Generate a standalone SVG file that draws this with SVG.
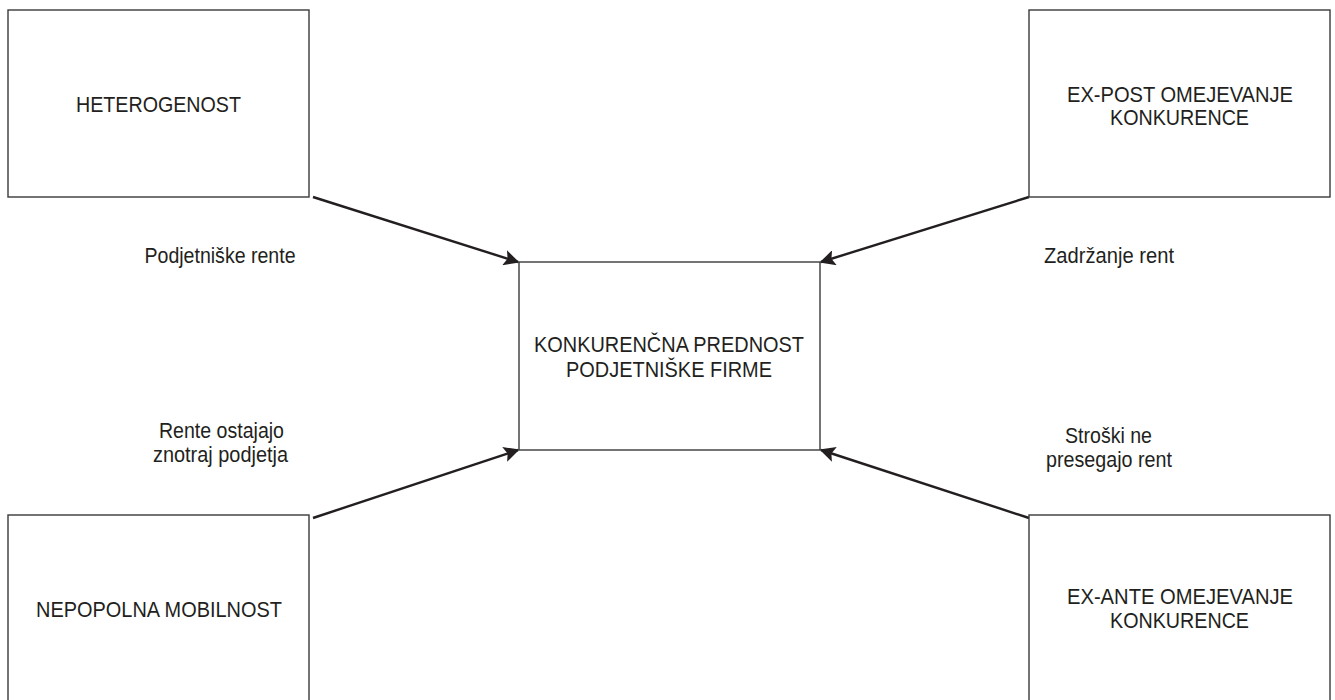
<svg xmlns="http://www.w3.org/2000/svg" width="1335" height="700" viewBox="0 0 1335 700">
<style>
.box{fill:#fff;stroke:#3a3a3a;stroke-width:1.4}
.t{font-family:"Liberation Sans",Arial,sans-serif;font-size:22px;fill:#231f20;text-anchor:middle}
.conn{stroke:#231f20;stroke-width:2.4;fill:none;marker-end:url(#ah)}
</style>
<defs>
<marker id="ah" viewBox="0 0 10 10" refX="9" refY="5" markerWidth="9" markerHeight="6.5" orient="auto" markerUnits="strokeWidth">
<path d="M0,0 L10,5 L0,10 L2,5 Z" fill="#231f20"/>
</marker>
</defs>
<rect width="1335" height="700" fill="#fff"/>
<g id="connectors">
<line class="conn" x1="313" y1="197" x2="518" y2="262"/>
<line class="conn" x1="1029" y1="197" x2="821" y2="262"/>
<line class="conn" x1="313" y1="518" x2="518" y2="450"/>
<line class="conn" x1="1029" y1="518" x2="821" y2="450"/>
</g>
<g id="node-heterogenost">
<rect class="box" x="8" y="10" width="301" height="187"/>
<text class="t" x="158.5" y="112" textLength="165" lengthAdjust="spacingAndGlyphs">HETEROGENOST</text>
</g>
<g id="node-expost">
<rect class="box" x="1029" y="10" width="301" height="187"/>
<text class="t" x="1180" y="102" textLength="226" lengthAdjust="spacingAndGlyphs">EX-POST OMEJEVANJE</text>
<text class="t" x="1179.5" y="125" textLength="139" lengthAdjust="spacingAndGlyphs">KONKURENCE</text>
</g>
<g id="node-center">
<rect class="box" x="519" y="262" width="301" height="188"/>
<text class="t" x="669" y="352" textLength="270" lengthAdjust="spacingAndGlyphs">KONKURENČNA PREDNOST</text>
<text class="t" x="669" y="377" textLength="206" lengthAdjust="spacingAndGlyphs">PODJETNIŠKE FIRME</text>
</g>
<g id="node-nepopolna">
<rect class="box" x="8" y="515" width="301" height="190"/>
<text class="t" x="159" y="617" textLength="246" lengthAdjust="spacingAndGlyphs">NEPOPOLNA MOBILNOST</text>
</g>
<g id="node-exante">
<rect class="box" x="1029" y="515" width="301" height="190"/>
<text class="t" x="1180" y="604" textLength="226" lengthAdjust="spacingAndGlyphs">EX-ANTE OMEJEVANJE</text>
<text class="t" x="1179.5" y="628" textLength="139" lengthAdjust="spacingAndGlyphs">KONKURENCE</text>
</g>
<g id="labels">
<text class="t" x="220" y="263" textLength="151" lengthAdjust="spacingAndGlyphs">Podjetniške rente</text>
<text class="t" x="1109" y="263" textLength="130" lengthAdjust="spacingAndGlyphs">Zadržanje rent</text>
<text class="t" x="221.5" y="438" textLength="125" lengthAdjust="spacingAndGlyphs">Rente ostajajo</text>
<text class="t" x="220.5" y="462" textLength="135" lengthAdjust="spacingAndGlyphs">znotraj podjetja</text>
<text class="t" x="1108.5" y="443" textLength="87" lengthAdjust="spacingAndGlyphs">Stroški ne</text>
<text class="t" x="1109" y="467" textLength="126" lengthAdjust="spacingAndGlyphs">presegajo rent</text>
</g>
</svg>
